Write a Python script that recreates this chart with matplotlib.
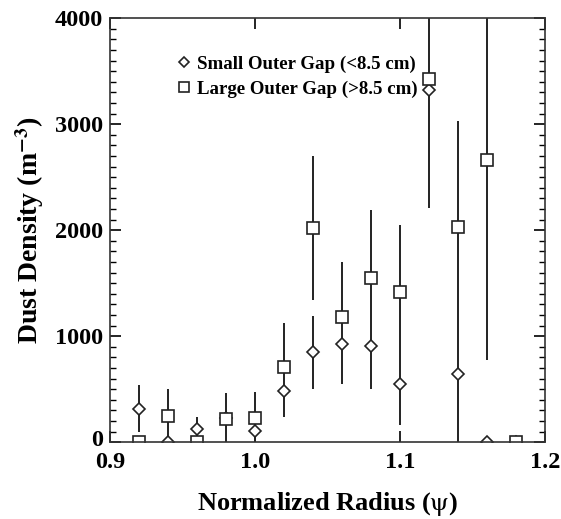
import matplotlib

matplotlib.use("Agg")

import matplotlib.pyplot as plt
import matplotlib.transforms as mtransforms
import numpy as np
from matplotlib.ticker import MultipleLocator

nan = np.nan

# normalized radius bins
radius = [0.92, 0.94, 0.96, 0.98, 1.00, 1.02, 1.04, 1.06, 1.08, 1.10, 1.12, 1.14, 1.16, 1.18]

# dust density (m^-3)
small_gap = [310, 0, 120, 230, 110, 480, 850, 930, 910, 550, 3320, 640, 0, 0]
large_gap = [0, 250, 0, 220, 230, 710, 2020, 1180, 1550, 1420, 3430, 2030, 2660, 0]

# error bar extents (low, high); nan = no bar
small_low = [94, nan, 0, 0, 0, nan, 500, nan, nan, 160, nan, 0, nan, nan]
small_high = [538, nan, 236, 462, 472, nan, 1190, nan, nan, 2050, nan, 3030, nan, nan]
large_low = [nan, 0, nan, nan, nan, 236, 1340, 547, 500, nan, 2210, nan, 775, nan]
large_high = [nan, 500, nan, nan, nan, 1120, 2700, 1700, 2190, nan, 5000, nan, 5000, nan]

plt.rcParams["font.family"] = ["Liberation Serif", "DejaVu Serif"]
plt.rcParams["mathtext.fontset"] = "stix"

fig = plt.figure(figsize=(5.61, 5.19), dpi=100)
ax = fig.add_axes([0.196, 0.148, 0.775, 0.817])

ax.vlines(radius, small_low, small_high, color="#222222", lw=1.4)
ax.vlines(radius, large_low, large_high, color="#222222", lw=1.4)

ax.plot(radius, small_gap, ls="none", marker="D", ms=6, mfc="white", mec="#222222",
        mew=1.2, label="Small Outer Gap (<8.5 cm)")
ax.plot(radius, large_gap, ls="none", marker="s", ms=8, mfc="white", mec="#222222",
        mew=1.2, label="Large Outer Gap (>8.5 cm)")

ax.set_xlim(0.9, 1.2)
ax.set_ylim(0, 4000)
ax.set_xticks([0.9, 1.0, 1.1, 1.2])
ax.set_xticklabels(["0.9", "1.0", "1.1", "1.2"])
ax.set_yticks([0, 1000, 2000, 3000, 4000])
ax.yaxis.set_minor_locator(MultipleLocator(100))
ax.tick_params(which="both", direction="in", top=True, right=True, labelsize=17.5)
ax.tick_params(axis="x", pad=7)
ax.tick_params(axis="y", pad=5)
ax.tick_params(which="major", length=8, width=1.2)
ax.tick_params(which="minor", length=4, width=1.0)
for lab in ax.get_xticklabels() + ax.get_yticklabels():
    lab.set_fontweight("bold")
for spine in ax.spines.values():
    spine.set_linewidth(1.2)
    spine.set_color("#333333")

# nudge the "0" y label up a touch so it clears "0.9"
zero_lab = ax.get_yticklabels()[0]
zero_lab.set_transform(zero_lab.get_transform()
                       + mtransforms.ScaledTranslation(0, 3 / 72, fig.dpi_scale_trans))

ax.set_xlabel(r"Normalized Radius ($\mathrm{\psi}$)", fontsize=19, fontweight="bold", labelpad=12)
ax.set_ylabel(r"Dust Density (m$^{\mathbf{-3}}$)", fontsize=20, fontweight="bold", labelpad=6)

ax.legend(loc="upper left", bbox_to_anchor=(0.135, 0.93), frameon=False,
          prop={"weight": "bold", "size": 13.6}, handletextpad=0.3, labelspacing=0.4,
          handlelength=0.8, borderaxespad=0, markerscale=0.85)

fig.savefig("out.png", dpi=100)
